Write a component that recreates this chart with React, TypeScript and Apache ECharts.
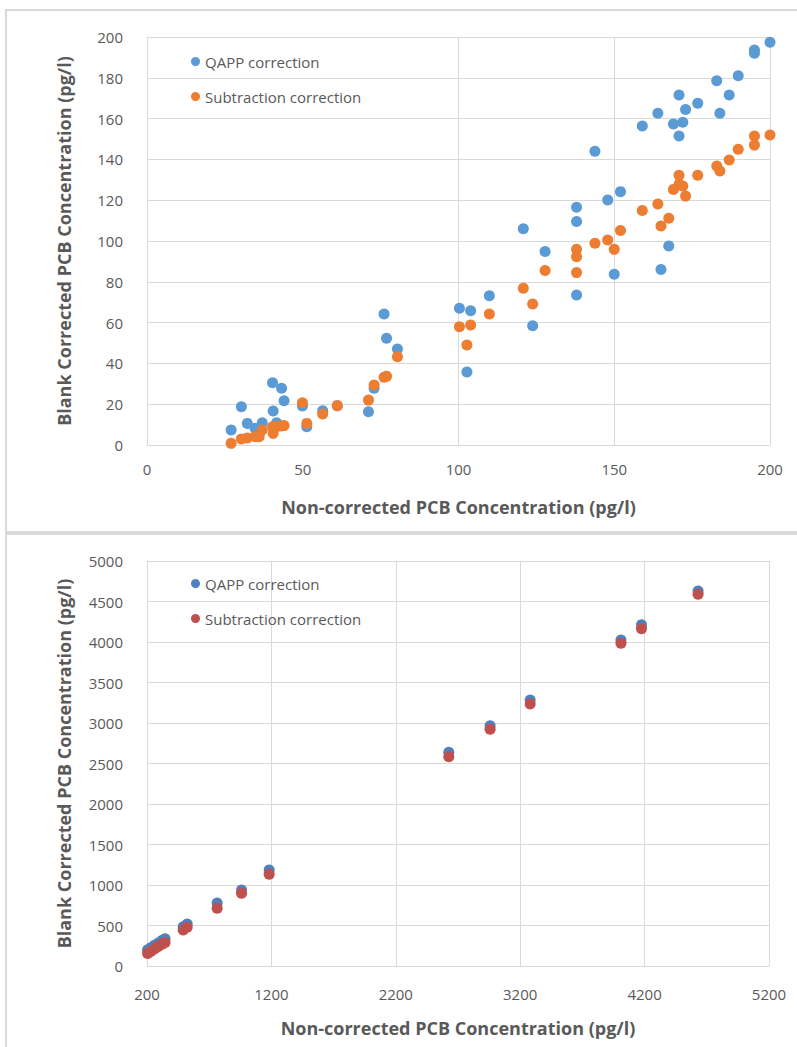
import React, { useEffect, useRef } from "react";
import * as echarts from "echarts";

// ---- Top chart (0–200 pg/l) ----
const topX = [27, 30.3, 32.2, 34.7, 36, 37, 40.3, 40.5, 41.6, 43.2, 44, 49.9, 51.3, 56.4, 61.1, 71.1, 72.9, 76.1, 76.9, 80.4, 100.3, 102.7, 103.9, 109.9, 120.8, 123.8, 127.8, 137.9, 137.9, 137.9, 143.8, 147.9, 150, 152, 159, 164, 165, 167.5, 169, 170.8, 170.8, 172, 172.9, 176.8, 182.9, 183.9, 186.9, 189.8, 195, 195, 200];
const topQapp = [7.4, 18.8, 10.6, 8.2, 6, 10.9, 30.5, 16.7, 10.9, 27.8, 21.7, 19.1, 9.0, 16.8, 19.3, 16.3, 27.8, 64.2, 52.3, 47.1, 67, 35.8, 65.8, 73.2, 106, 58.5, 94.8, 116.5, 109.6, 73.5, 144, 120.1, 83.7, 124.2, 156.4, 162.6, 86, 97.5, 157.4, 171.6, 151.5, 158.2, 164.5, 167.5, 178.6, 162.6, 171.6, 181, 193.6, 192, 197.4];
const topSub = [0.8, 2.9, 3.4, 4.1, 4, 7.4, 9, 5.7, 9.0, 9.3, 9.5, 20.7, 10.6, 15.2, 19.3, 22, 29.4, 33.2, 33.7, 43.3, 58, 49, 58.8, 64.2, 76.8, 69.1, 85.5, 96, 92.3, 84.5, 98.9, 100.5, 95.9, 105.2, 114.9, 118.1, 107.4, 111.1, 125.3, 132.2, 127.8, 127, 122, 132.2, 136.8, 134.3, 139.7, 145, 151.5, 147, 152];
const topVGrid = [100, 150, 200];

// ---- Bottom chart (200–5200 pg/l) ----
const botX = [205, 230, 260, 290, 320, 345, 491, 523, 764, 960, 1182, 2626, 2958, 3280, 4010, 4175, 4630];
const botQapp = [200, 225, 255, 285, 315, 335, 485, 519, 778, 938, 1185, 2638, 2967, 3284, 4025, 4212, 4630];
const botSub = [155, 180, 210, 240, 270, 290, 444, 478, 712, 897, 1132, 2584, 2922, 3235, 3984, 4164, 4589];

const seriesNames = ["QAPP correction", "Subtraction correction"];
const topColors = ["#5B9BD5", "#ED7D31"];
const botColors = ["#4F81BD", "#C0504D"];

const FONT = "'Open Sans', sans-serif";
const GREY = "#595959";
const GRID = "#D9D9D9";

const pairs = (xs: number[], ys: number[]) => xs.map((x, i) => [x, ys[i]]);

export default function App() {
  const ref = useRef<HTMLDivElement>(null);
  useEffect(() => {
    if (!ref.current) return;
    const chart = echarts.init(ref.current, undefined, { renderer: "svg" });
    const axisLabel = { color: GREY, fontSize: 15, fontFamily: FONT, formatter: (v: number) => String(v) };
    const nameStyle = { color: GREY, fontSize: 18, fontWeight: "bold" as const, fontFamily: FONT };
    const yName = "Blank Corrected PCB Concentration (pg/l)";
    const xName = "Non-corrected PCB Concentration (pg/l)";
    const legendBase = {
      orient: "vertical" as const,
      icon: "circle",
      itemWidth: 9,
      itemHeight: 9,
      itemGap: 14,
      textStyle: { color: GREY, fontSize: 15, fontFamily: FONT, lineHeight: 21 },
    };
    chart.setOption({
      animation: false,
      graphic: [
        { type: "rect", shape: { x: 6, y: 10, width: 800, height: 522 }, style: { fill: "none", stroke: GRID, lineWidth: 2 }, silent: true },
        { type: "rect", shape: { x: 6, y: 534, width: 800, height: 520 }, style: { fill: "none", stroke: GRID, lineWidth: 2 }, silent: true },
      ],
      grid: [
        { left: 147, top: 37, width: 623, height: 408 },
        { left: 147, top: 561, width: 622, height: 405 },
      ],
      legend: [
        {
          ...legendBase,
          left: 186,
          top: 46,
          data: seriesNames.map((n, i) => ({ name: n, itemStyle: { color: topColors[i] } })),
        },
        {
          ...legendBase,
          left: 186,
          top: 568,
          data: seriesNames.map((n, i) => ({ name: n, itemStyle: { color: botColors[i] } })),
        },
      ],
      xAxis: [
        {
          gridIndex: 0, type: "value", min: 0, max: 200, interval: 50,
          axisLine: { show: true, lineStyle: { color: GRID } },
          axisTick: { show: false }, splitLine: { show: false },
          axisLabel: { ...axisLabel, margin: 16 },
          name: xName, nameLocation: "middle", nameGap: 53, nameTextStyle: nameStyle,
        },
        {
          gridIndex: 1, type: "value", min: 200, max: 5200, interval: 1000,
          axisLine: { show: true, lineStyle: { color: GRID } },
          axisTick: { show: false }, splitLine: { show: true, lineStyle: { color: GRID } },
          axisLabel: { ...axisLabel, margin: 20 },
          name: xName, nameLocation: "middle", nameGap: 53, nameTextStyle: nameStyle,
        },
      ],
      yAxis: [
        {
          gridIndex: 0, type: "value", min: 0, max: 200, interval: 20,
          axisLine: { show: true, lineStyle: { color: GRID } },
          axisTick: { show: false }, splitLine: { show: true, lineStyle: { color: GRID } },
          axisLabel: { ...axisLabel, margin: 24 },
          name: yName, nameLocation: "middle", nameGap: 74, nameTextStyle: nameStyle,
        },
        {
          gridIndex: 1, type: "value", min: 0, max: 5000, interval: 500,
          axisLine: { show: true, lineStyle: { color: GRID } },
          axisTick: { show: false }, splitLine: { show: true, lineStyle: { color: GRID } },
          axisLabel: { ...axisLabel, margin: 24 },
          name: yName, nameLocation: "middle", nameGap: 74, nameTextStyle: nameStyle,
        },
      ],
      series: [
        {
          name: seriesNames[0], type: "scatter", xAxisIndex: 0, yAxisIndex: 0,
          symbolSize: 11, itemStyle: { color: topColors[0], opacity: 1 },
          data: pairs(topX, topQapp),
          markLine: {
            silent: true, symbol: "none", label: { show: false },
            lineStyle: { color: GRID, type: "solid", width: 1 },
            data: topVGrid.map((v) => ({ xAxis: v })),
            z: 0,
          },
          z: 2,
        },
        {
          name: seriesNames[1], type: "scatter", xAxisIndex: 0, yAxisIndex: 0,
          symbolSize: 11, itemStyle: { color: topColors[1], opacity: 1 },
          data: pairs(topX, topSub), z: 3,
        },
        {
          name: seriesNames[0], type: "scatter", xAxisIndex: 1, yAxisIndex: 1,
          symbolSize: 11, itemStyle: { color: botColors[0], opacity: 1 },
          data: pairs(botX, botQapp), z: 2,
        },
        {
          name: seriesNames[1], type: "scatter", xAxisIndex: 1, yAxisIndex: 1,
          symbolSize: 11, itemStyle: { color: botColors[1], opacity: 1 },
          data: pairs(botX, botSub), z: 3,
        },
      ],
    });
    return () => chart.dispose();
  }, []);
  return (
    <div
      ref={ref}
      style={{ position: "absolute", left: 0, top: 0, width: 797, height: 1047, background: "#fff" }}
    />
  );
}
